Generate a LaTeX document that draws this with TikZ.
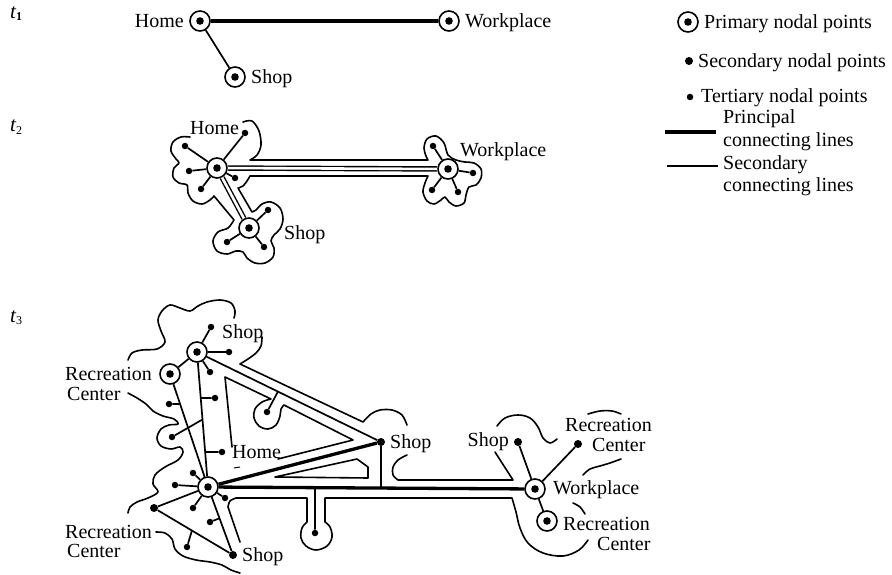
\documentclass[tikz,border=0pt]{standalone}
\usepackage{fontspec}
\setmainfont{Liberation Serif}
\usetikzlibrary{calc}
\begin{document}
\begin{tikzpicture}[x=1pt,y=-1pt,
  prim/.style={circle, draw, line width=1.6pt, minimum size=20pt, inner sep=0pt, fill=white,
    path picture={\fill[black] (path picture bounding box.center) circle (3.8pt);}},
  sec/.style={circle, fill, minimum size=8pt, inner sep=0pt},
  ter/.style={circle, fill, minimum size=6.5pt, inner sep=0pt},
  road/.style={line width=1.7pt},
  mainroad/.style={line width=3.3pt},
  droad/.style={double, line width=1.4pt, double distance=2.6pt},
  outl/.style={line width=1.6pt, line join=round, line cap=round},
  lbl/.style={inner sep=0pt, font=\fontsize{20}{19.5}\selectfont},
  tlbl/.style={inner sep=0pt, font=\fontsize{21}{22}\selectfont\itshape},
]
\useasboundingbox (0,0) rectangle (892,575);

% ---------- time labels ----------
\node[tlbl, anchor=base west] (T1) at (10,19) {t\raisebox{-2pt}{\upshape\bfseries\fontsize{12}{12}\selectfont 1}};
\node[tlbl, anchor=base west] (T2) at (10,132) {t\raisebox{-2pt}{\upshape\fontsize{12}{12}\selectfont 2}};
\node[tlbl, anchor=base west] (T3) at (10,322) {t\raisebox{-2pt}{\upshape\fontsize{12}{12}\selectfont 3}};

% ---------- t1 ----------
\node[prim] (h1) at (200,21) {};
\node[prim] (w1) at (449,21) {};
\node[prim] (s1) at (235,77) {};
\draw[mainroad] (h1) -- (w1);
\draw[road] (h1) -- (s1);
\node[lbl, anchor=base east] (lh1) at (184,27.5) {Home};
\node[lbl, anchor=base west] (lw1) at (465,27.5) {Workplace};
\node[lbl, anchor=base west] (ls1) at (251,83.5) {Shop};

% ---------- legend ----------
\node[prim] (lg1) at (688,22) {};
\node[lbl, anchor=base west] (lgt1) at (704,28.5) {Primary nodal points};
\node[sec] (lg2) at (689,61) {};
\node[lbl, anchor=base west] (lgt2) at (698,67.5) {Secondary nodal points};
\node[ter] (lg3) at (690,97) {};
\node[lbl, anchor=base west] (lgt3) at (701,102.5) {Tertiary nodal points};
\coordinate (pa) at (665,132); \coordinate (pb) at (716,132);
\draw[mainroad] (pa) -- (pb);
\node[lbl, anchor=base west, align=left] (lgt4) at (723,146.5) {Principal\\[3pt]connecting lines};
\coordinate (sa0) at (667,166); \coordinate (sb0) at (718,166);
\draw[road] (sa0) -- (sb0);
\node[lbl, anchor=base west, align=left] (lgt6) at (723,192) {Secondary\\[3pt]connecting lines};

% ---------- t2 ----------
\draw[outl] plot[smooth,tension=.55] coordinates {(190,137) (181,137) (173,142) (171,151) (176,159) (179,163) (174,168) (173,177) (179,183) (187,185) (188,193) (193,201) (202,204) (210,200) (214,196)}
  -- plot[smooth,tension=.55] coordinates {(234,220) (228,228) (218,232) (213,241) (217,251) (227,254) (236,251) (243,252) (247,258) (255,263) (265,263) (273,257) (274,248) (271,241) (274,235) (280,229) (283,219) (280,208) (271,202) (262,204) (256,210) (252,212)}
  -- plot[smooth,tension=.55] coordinates {(238,188) (243,186) (247,181) (250,176)}
  -- plot[smooth,tension=.55] coordinates {(428,176) (425,183) (423,192) (427,201) (434,204) (441,200) (445,197) (449,202) (456,206) (464,203) (466,195) (469,187) (476,185) (481,178) (481,169) (474,163) (465,162) (456,160) (448,155) (444,143) (436,136) (427,139) (424,148) (426,156) (428,160)}
  -- plot[smooth,tension=.55] coordinates {(250,160) (257,155) (261,145) (259,131) (252,121) (243,122)};

\node[prim] (h2) at (217,168) {};
\node[prim] (w2) at (448,169) {};
\node[prim] (s2) at (249,228) {};
\node[ter] (a2) at (185,146) {};
\node[ter] (b2) at (189,171) {};
\node[ter] (c2) at (201,189) {};
\node[ter] (d2) at (245,133) {};
\node[ter] (e2) at (235,178) {};
\node[ter] (f2) at (268,210) {};
\node[ter] (g2) at (227,242) {};
\node[ter] (k2) at (264,247) {};
\node[ter] (i2) at (433,146) {};
\node[ter] (j2) at (473,173) {};
\node[ter] (m2) at (432,190) {};
\node[ter] (n2) at (458,192) {};
\draw[droad] (h2) -- (w2);
\draw[droad] (h2) -- (s2);
\foreach \t in {a2,b2,c2,d2,e2} \draw[road] (h2) -- (\t);
\foreach \t in {f2,g2,k2} \draw[road] (s2) -- (\t);
\foreach \t in {i2,j2,m2,n2} \draw[road] (w2) -- (\t);
\node[lbl, anchor=base west] (lh2) at (190,134.5) {Home};
\node[lbl, anchor=base west] (lw2) at (460,156.5) {Workplace};
\node[lbl, anchor=base west] (ls2) at (284,239) {Shop};

% ---------- t3 outlines ----------
\draw[outl] plot[smooth,tension=.55] coordinates {(128,360) (132,353) (142,350) (157,349) (165,342) (161,331) (158,320) (162,311) (170,305) (180,308) (190,311) (198,306) (207,302) (220,300) (231,303) (235,311) (234,318)};
\draw[outl] plot[smooth,tension=.55] coordinates {(262,337) (261,346) (256,353) (248,359) (240,364)}
  -- plot[smooth,tension=.55] coordinates {(363,422) (371,414) (380,410) (392,410) (402,415) (407,425)};
\draw[outl] plot[smooth,tension=.55] coordinates {(407,455) (398,460) (393,467) (393,475) (398,480)} -- (513,480) -- (495,452);
\draw[outl] (232,447) -- (225,377) -- plot[smooth,tension=.6] coordinates {(271,399) (262,402) (255,409) (254,418) (259,426) (268,429) (276,425) (280,416) (281,409) (284,405)} -- (353,440) -- (278,459);
\draw[outl] (275,477) -- (357,459) -- (368,467) -- (368,478) -- cycle;
\draw[outl] (240,542) -- plot[smooth,tension=.6] coordinates {(228,507) (230,501) (236,498)} -- (307,498)
  -- plot[smooth,tension=.6] coordinates {(307,522) (302,528) (301,538) (306,546) (316,550) (327,546) (332,537) (330,527) (325,522)}
  -- (325,498) -- plot[smooth,tension=.6] coordinates {(512,498) (516,512) (520,528) (528,543) (543,553) (563,556) (579,550) (588,540)};
\draw[outl] plot[smooth,tension=.6] coordinates {(497,426) (505,418) (518,415) (530,418) (538,427) (543,438) (550,443) (557,439)};
\draw[outl] plot[smooth,tension=.6] coordinates {(588,414) (600,411) (612,411) (621,414)};
\draw[outl] plot[smooth,tension=.6] coordinates {(621,459) (610,463) (600,466) (590,469) (583,475)};
\draw[outl] plot[smooth,tension=.6] coordinates {(573,503) (580,507) (585,514)};
\draw[outl] plot[smooth,tension=.55] coordinates {(128,393) (137,398) (146,404) (153,411) (163,416) (174,419) (178,424) (169,425) (161,429) (157,438) (161,446) (171,449) (180,447) (183,452) (178,460) (165,467) (155,475) (153,484) (158,492) (148,498) (137,502) (130,507) (128,513)};
\draw[outl] plot[smooth,tension=.55] coordinates {(156,532) (165,533) (172,539) (175,549) (183,556) (196,560) (210,562) (222,565) (231,570) (240,573)};
\draw[line width=1pt] (234,468) -- (240,467);

% ---------- t3 nodes ----------
\node[prim] (sa) at (197,352) {};
\node[prim] (ra) at (170,374) {};
\node[prim] (h3) at (208,487) {};
\node[sec] (sb) at (381,442) {};
\node[sec] (sc) at (233,555) {};
\node[sec] (rb) at (154,508) {};
\node[prim] (w3) at (535,489) {};
\node[prim] (rc) at (547,521) {};
\node[sec] (sd) at (518,442) {};
\node[sec] (rd) at (578,444) {};
\node[ter] (ta1) at (211,327) {};
\node[ter] (ta2) at (229,352) {};
\node[ter] (ta3) at (210,372) {};
\node[ter] (tb1) at (215,398) {};
\node[ter] (tb2) at (169,404) {};
\node[ter] (tb3) at (172,437) {};
\node[ter] (tb4) at (222,452) {};
\node[ter] (tp1) at (267,412) {};
\node[ter] (th1) at (193,473) {};
\node[ter] (th2) at (175,485) {};
\node[ter] (th3) at (193,508) {};
\node[ter] (th4) at (225,498) {};
\node[ter] (th5) at (210,522) {};
\node[ter] (tr1) at (187,547) {};
\node[ter] (tp2) at (315,533) {};

\coordinate (qb1) at ($(sa)!0.34!(h3)$);
\coordinate (qb2) at ($(ra)!0.265!(h3)$);
\coordinate (qb3) at ($(sa)!0.5!(h3)$);
\coordinate (qb4) at ($(sa)!0.74!(h3)$);
\coordinate (qp1) at ($(sa)!0.44!(sb)$);
\coordinate (qh5) at ($(h3)!0.46!(sc)$);
\coordinate (qr1) at ($(rb)!0.48!(sc)$);
\coordinate (qp2) at ($(h3)!0.327!(w3)$);
\coordinate (qsb) at ($(h3)!0.529!(w3)$);

\draw[road] (sa) -- (ra);
\draw[road] (sa) -- (h3);
\draw[road] (ra) -- (h3);
\draw[road] (sa) -- (sb);
\draw[road] (h3) -- (rb);
\draw[road] (h3) -- (sc);
\draw[road] (rb) -- (sc);
\foreach \t in {ta1,ta2,ta3} \draw[road] (sa) -- (\t);
\foreach \t in {th1,th2,th3,th4} \draw[road] (h3) -- (\t);
\draw[road] (tb1) -- (qb1);
\draw[road] (tb2) -- (qb2);
\draw[road] (tb3) -- (qb3);
\draw[road] (tb4) -- (qb4);
\draw[road] (tp1) -- (qp1);
\draw[road] (th5) -- (qh5);
\draw[road] (tr1) -- (qr1);
\draw[road] (tp2) -- (qp2);
\draw[road] (sb) -- (qsb);
\draw[road] (w3) -- (sd);
\draw[road] (w3) -- (rd);
\draw[road] (w3) -- (rc);
\draw[mainroad] (h3) -- (sb);
\draw[mainroad] (h3) -- (w3);

% ---------- t3 labels ----------
\node[lbl, anchor=base west] (l3a) at (222,338.5) {Shop};
\node[lbl, anchor=base west, align=left] (l3b) at (65,400) {Recreation\\\hspace*{2pt}Center};
\node[lbl, anchor=base west] (l3d) at (232,458.5) {Home};
\node[lbl, anchor=base west] (l3e) at (390,448.5) {Shop};
\node[lbl, anchor=base west, align=left] (l3f) at (65,557.5) {Recreation\\\hspace*{2pt}Center};
\node[lbl, anchor=base west] (l3h) at (242,561.5) {Shop};
\node[lbl, anchor=base east] (l3i) at (509,446.5) {Shop};
\node[lbl, anchor=base west, align=left] (l3j) at (565,451) {Recreation\\\hspace*{27pt}Center};
\node[lbl, anchor=base west] (l3l) at (553,494.5) {Workplace};
\node[lbl, anchor=base west, align=left] (l3m) at (563,550) {Recreation\\\hspace*{34pt}Center};
\end{tikzpicture}
\end{document}
